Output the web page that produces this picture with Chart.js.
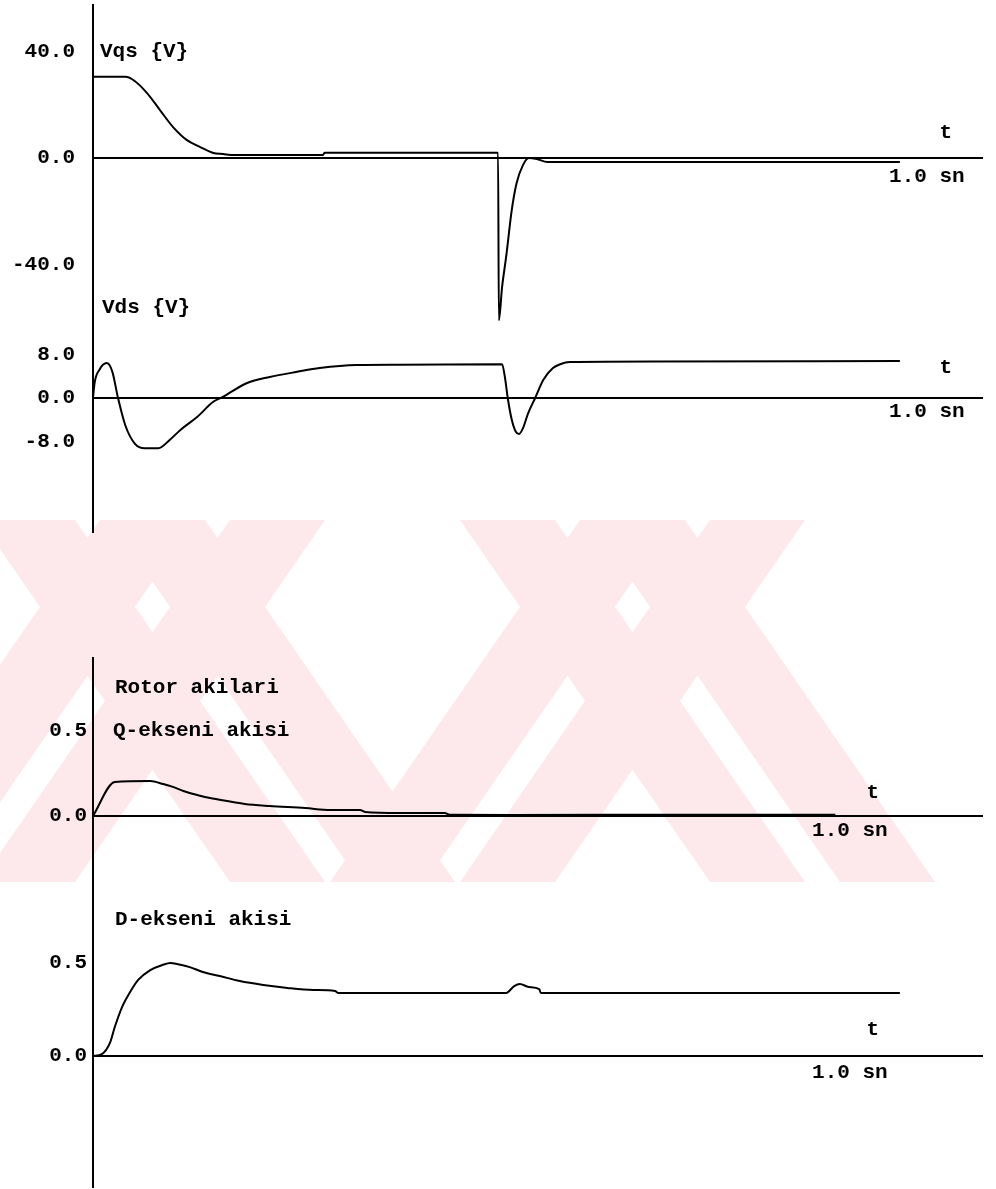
<!DOCTYPE html>
<html>
<head>
<meta charset="utf-8">
<script src="https://cdn.jsdelivr.net/npm/chart.js@4.4.1/dist/chart.umd.min.js"></script>
<style>
  body { margin: 0; background: #fff; }
  #page { position: relative; width: 996px; height: 1189px; overflow: hidden; }
  .panel { position: absolute; left: 0; width: 996px; }
  #mark { position: absolute; left: 0; top: 0; }
</style>
</head>
<body>
<div id="page">
  <!-- faint watermark stripes behind the plots -->
  <svg id="mark" width="996" height="1189">
    <g fill="#fde8ec">
      <polygon points="-150,882 -55,882 195,520 100,520"/>
      <polygon points="-20,882 75,882 325,520 230,520"/>
      <polygon points="330,882 425,882 675,520 580,520"/>
      <polygon points="460,882 555,882 805,520 710,520"/>
      <polygon points="-20,520 75,520 325,882 230,882"/>
      <polygon points="110,520 205,520 455,882 360,882"/>
      <polygon points="460,520 555,520 805,882 710,882"/>
      <polygon points="590,520 685,520 935,882 840,882"/>
    </g>
  </svg>
  <div class="panel" style="top:0;height:345px"><canvas id="cVqs" width="996" height="345"></canvas></div>
  <div class="panel" style="top:285px;height:248px"><canvas id="cVds" width="996" height="248"></canvas></div>
  <div class="panel" style="top:650px;height:230px"><canvas id="cQ" width="996" height="230"></canvas></div>
  <div class="panel" style="top:880px;height:309px"><canvas id="cD" width="996" height="309"></canvas></div>
</div>
<script>
// time in seconds
const tVqs = [0, 0.040, 0.050, 0.067, 0.083, 0.099, 0.116, 0.133, 0.149, 0.161, 0.175, 0.285, 0.287,
              0.502, 0.503, 0.507, 0.512, 0.519, 0.525, 0.533, 0.540, 0.550, 0.563, 1.0];
const vqs  = [30.5, 30.5, 29.3, 24.4, 18.0, 11.7, 6.8, 4.1, 1.9, 1.5, 1.1, 1.1, 2.0,
              2.0, -61, -48.5, -37.2, -19.5, -9.4, -2.6, 0, -0.4, -1.5, -1.5];

const tVds = [0, 0.002, 0.008, 0.017, 0.024, 0.031, 0.040, 0.052, 0.064, 0.081, 0.095, 0.108, 0.129,
              0.149, 0.161, 0.191, 0.219, 0.253, 0.281, 0.327, 0.38, 0.507, 0.511, 0.514, 0.519,
              0.524, 0.528, 0.533, 0.539, 0.548, 0.558, 0.570, 0.579, 0.591, 0.70, 1.0];
const vds  = [0, 2.8, 5.2, 6.4, 4.8, 0, -5.0, -8.4, -9.2, -9.2, -7.7, -5.9, -3.5,
              -0.7, 0.2, 2.75, 3.85, 4.8, 5.5, 6.05, 6.1, 6.2, 3.3, 0, -4.0,
              -6.2, -6.6, -5.5, -2.9, 0, 3.3, 5.5, 6.2, 6.6, 6.7, 6.8];

const tQ    = [0, 0.027, 0.071, 0.087, 0.099, 0.112, 0.129, 0.145, 0.166, 0.188, 0.219, 0.263, 0.294,
               0.331, 0.337, 0.380, 0.436, 0.442, 0.52, 0.75, 0.92];
const fluxQ = [0, 0.2, 0.206, 0.188, 0.171, 0.147, 0.124, 0.106, 0.088, 0.071, 0.059, 0.047, 0.035,
               0.035, 0.024, 0.018, 0.018, 0.007, 0.006, 0.008, 0.007];

const tD    = [0, 0.011, 0.021, 0.027, 0.036, 0.046, 0.056, 0.071, 0.086, 0.096, 0.104, 0.120, 0.136,
               0.157, 0.182, 0.211, 0.241, 0.273, 0.300, 0.304, 0.512, 0.522, 0.529, 0.540, 0.553, 0.555, 1.0];
const fluxD = [0, 0.01, 0.07, 0.156, 0.263, 0.344, 0.409, 0.462, 0.489, 0.5, 0.495, 0.478, 0.452,
               0.43, 0.403, 0.382, 0.366, 0.355, 0.35, 0.339, 0.339, 0.376, 0.387, 0.371, 0.36, 0.339, 0.339];

// tick labels
const vqsTicks = [-40, 0, 40];
const vdsTicks = [-8, 0, 8];
const fluxTicks = [0, 0.5];
const axisName = 't';
const endLabel = '1.0 sn';
const tEnd = 1.0;
const tMax = 1.103;

const FONT = 'bold 21px "Liberation Mono", "DejaVu Sans Mono", monospace';

const pts = (ts, vs) => ts.map((t, i) => ({ x: t, y: vs[i] }));

// titles and the "t" / "1.0 sn" labels
const textPlugin = {
  id: 'panelText',
  afterDraw(chart, args, opts) {
    const ctx = chart.ctx;
    const xs = chart.scales.x, ys = chart.scales.y;
    ctx.save();
    ctx.fillStyle = '#000';
    ctx.font = FONT;
    ctx.textBaseline = 'middle';
    ctx.textAlign = 'left';
    (opts.titles || []).forEach(t => ctx.fillText(t.text, t.x, t.y));
    const x1 = xs.getPixelForValue(tEnd), y0 = ys.getPixelForValue(0);
    ctx.textAlign = 'center';
    ctx.fillText(axisName, x1 + opts.tdx, y0 + opts.tdy);
    ctx.fillText(endLabel, x1 + opts.edx, y0 + opts.edy);
    ctx.restore();
  }
};

function panel(id, data, yMin, yMax, ticks, pad, padTop, padBottom, text) {
  return new Chart(document.getElementById(id), {
    type: 'line',
    data: {
      datasets: [{
        data: data,
        borderColor: '#000',
        borderWidth: 2,
        pointRadius: 0,
        cubicInterpolationMode: 'monotone',
        fill: false
      }]
    },
    options: {
      responsive: false,
      animation: false,
      devicePixelRatio: 1,
      layout: { padding: { top: padTop, right: 13, bottom: padBottom, left: 0 } },
      plugins: { legend: { display: false }, tooltip: { enabled: false }, panelText: text },
      scales: {
        x: { type: 'linear', min: 0, max: tMax, display: false },
        y: {
          type: 'linear', min: yMin, max: yMax,
          afterFit(s) { s.width = 93; s.paddingTop = 0; s.paddingBottom = 0; },
          afterBuildTicks(s) { s.ticks = ticks.map(v => ({ value: v })); },
          ticks: {
            color: '#000', padding: pad,
            font: { family: '"Liberation Mono", "DejaVu Sans Mono", monospace', size: 21, weight: 'bold' },
            callback: v => Number(v).toFixed(1)
          },
          grid: {
            drawTicks: false, lineWidth: 2,
            color: c => (c.tick && c.tick.value === 0) ? '#000' : 'rgba(0,0,0,0)'
          },
          border: { display: true, color: '#000', width: 2 }
        }
      }
    },
    plugins: [textPlugin]
  });
}

// top panel: stator voltages
panel('cVqs', pts(tVqs, vqs), -70.3, 57.5, vqsTicks, 18, 5, 0, {
  titles: [{ text: 'Vqs {V}', x: 100, y: 52 }],
  tdx: 46, tdy: -25, edx: 27, edy: 19
});
panel('cVds', pts(tVds, vds), -24.77, 20.73, vdsTicks, 18, 0, 0, {
  titles: [{ text: 'Vds {V}', x: 102, y: 23 }],
  tdx: 46, tdy: -30, edx: 27, edy: 14
});

// bottom panel: rotor fluxes
panel('cQ', pts(tQ, fluxQ), -0.3765, 0.9294, fluxTicks, 6, 8, 0, {
  titles: [{ text: 'Rotor akilari', x: 115, y: 38 }, { text: 'Q-ekseni akisi', x: 113, y: 81 }],
  tdx: -27, tdy: -23, edx: -50, edy: 15
});
panel('cD', pts(tD, fluxD), -0.7043, 0.9462, fluxTicks, 6, 0, 2, {
  titles: [{ text: 'D-ekseni akisi', x: 115, y: 40 }],
  tdx: -27, tdy: -26, edx: -50, edy: 17
});
</script>
</body>
</html>
